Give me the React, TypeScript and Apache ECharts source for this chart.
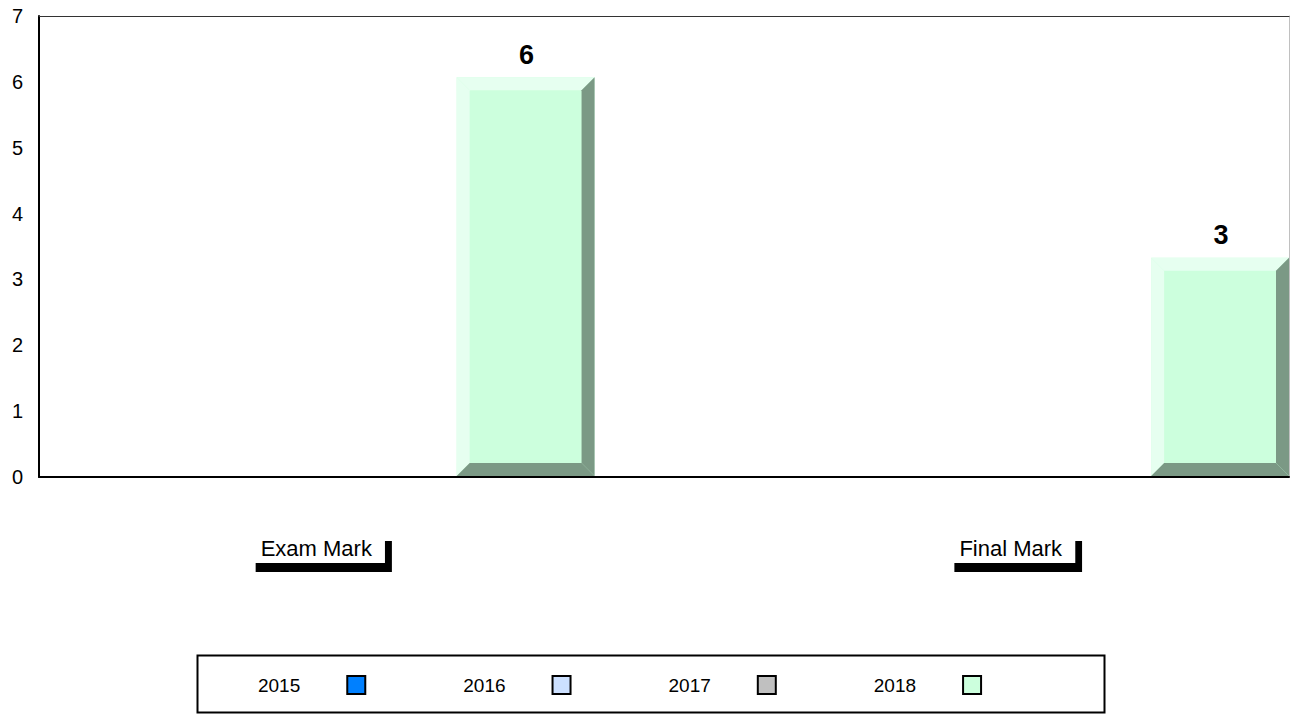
import React, { useEffect, useRef } from 'react';
import * as echarts from 'echarts';

const categories = ['Exam Mark', 'Final Mark'];
const seriesNames = ['2015', '2016', '2017', '2018'];
const values2015 = [0, 0];
const values2016 = [0, 0];
const values2017 = [0, 0];
const values2018 = [6.07, 3.33];
const seriesValues = [values2015, values2016, values2017, values2018];
const seriesColors = ['#0080ff', '#cce0ff', '#c0c0c0', '#ccffdd'];
const lightColors = ['#80c0ff', '#e6f0ff', '#e0e0e0', '#e6fff0'];
const darkColors = ['#004c99', '#7a8699', '#737373', '#7b9985'];
const yMin = 0;
const yMax = 7;
const yInterval = 1;

const FONT = '"Liberation Sans", Arial, Helvetica, sans-serif';
const SLOTS_PER_CAT = seriesNames.length + 1;
const X_MAX = categories.length * SLOTS_PER_CAT - 1;

export default function App() {
  const ref = useRef<HTMLDivElement>(null);

  useEffect(() => {
    if (!ref.current) return;
    const chart = echarts.init(ref.current, null, { renderer: 'svg' });

    const catCenter = (i: number) => i * SLOTS_PER_CAT + seriesNames.length / 2;

    const series = seriesNames.map((name, si) => ({
      name,
      type: 'custom',
      itemStyle: { color: seriesColors[si] },
      data: seriesValues[si].map((v, ci) => [ci, v]),
      renderItem: (params: any, api: any) => {
        const ci = api.value(0);
        const v = api.value(1);
        if (!(v > 0)) return null;
        const slot = ci * SLOTS_PER_CAT + params.seriesIndex;
        const a = api.coord([slot, v]);
        const b = api.coord([slot + 1, 0]);
        const x0 = a[0] + 1, y0 = a[1], x1 = b[0], y1 = b[1] - 1;
        const d = 13;
        return {
          type: 'group',
          children: [
            { type: 'rect', shape: { x: x0, y: y0, width: x1 - x0, height: y1 - y0 }, style: { fill: seriesColors[si] } },
            { type: 'polygon', shape: { points: [[x0, y0], [x1, y0], [x1 - d, y0 + d], [x0 + d, y0 + d]] }, style: { fill: lightColors[si] } },
            { type: 'polygon', shape: { points: [[x0, y0], [x0 + d, y0 + d], [x0 + d, y1 - d], [x0, y1]] }, style: { fill: lightColors[si] } },
            { type: 'polygon', shape: { points: [[x1, y0], [x1, y1], [x1 - d, y1 - d], [x1 - d, y0 + d]] }, style: { fill: darkColors[si] } },
            { type: 'polygon', shape: { points: [[x0, y1], [x1, y1], [x1 - d, y1 - d], [x0 + d, y1 - d]] }, style: { fill: darkColors[si] } },
            {
              type: 'text',
              style: {
                text: String(Math.round(v)),
                x: (x0 + x1) / 2 + 1,
                y: y0 - 9,
                align: 'center',
                verticalAlign: 'bottom',
                fill: '#000',
                font: `bold 27px ${FONT}`,
              },
            },
          ],
        };
      },
    }));

    chart.setOption({
      animation: false,
      textStyle: { fontFamily: FONT },
      grid: { left: 39, right: 2, top: 16, bottom: 247, containLabel: false },
      xAxis: [
        {
          type: 'value',
          min: 0,
          max: X_MAX,
          interval: 1,
          position: 'bottom',
          axisLine: { show: true, onZero: false, lineStyle: { color: '#000', width: 2 } },
          axisTick: { show: false },
          splitLine: { show: false },
          axisLabel: {
            margin: 55,
            formatter: (val: number) => {
              for (let i = 0; i < categories.length; i++) {
                if (Math.abs(val - catCenter(i)) < 1e-6) return `{box|${categories[i]}}`;
              }
              return '';
            },
            rich: {
              box: {
                fontSize: 22,
                fontFamily: FONT,
                color: '#000',
                backgroundColor: '#fff',
                padding: [5, 13, 4, 12],
                shadowColor: '#000',
                shadowBlur: 0,
                shadowOffsetX: 7,
                shadowOffsetY: 9,
              },
            },
          },
        },
        {
          type: 'value',
          min: 0,
          max: X_MAX,
          position: 'top',
          axisLine: { show: true, onZero: false, lineStyle: { color: '#333', width: 1 } },
          axisTick: { show: false },
          axisLabel: { show: false },
          splitLine: { show: false },
        },
      ],
      yAxis: [
        {
          type: 'value',
          min: yMin,
          max: yMax,
          interval: yInterval,
          axisLine: { show: true, onZero: false, lineStyle: { color: '#000', width: 2 } },
          axisTick: { show: false },
          splitLine: { show: false },
          axisLabel: { color: '#000', fontSize: 20, fontFamily: FONT, margin: 16 },
        },
        {
          type: 'value',
          min: yMin,
          max: yMax,
          position: 'right',
          axisLine: { show: true, onZero: false, lineStyle: { color: '#c0c0c0', width: 1 } },
          axisTick: { show: false },
          axisLabel: { show: false },
          splitLine: { show: false },
        },
      ],
      legend: {
        data: seriesNames,
        orient: 'horizontal',
        align: 'right',
        left: 253,
        top: 670,
        itemWidth: 18,
        itemHeight: 18,
        itemGap: 97,
        icon: 'rect',
        itemStyle: { borderColor: '#000', borderWidth: 2 },
        textStyle: { color: '#000', fontSize: 19, fontFamily: FONT, padding: [0, 42, 0, 0] },
        selectedMode: false,
      },
      graphic: [
        {
          type: 'rect',
          left: 195,
          top: 653,
          shape: { width: 907, height: 57 },
          style: { fill: 'none', stroke: '#000', lineWidth: 2 },
          silent: true,
        },
      ],
      series,
    });

    return () => chart.dispose();
  }, []);

  return (
    <div
      ref={ref}
      style={{ position: 'fixed', left: 0, top: 0, width: 1292, height: 724, background: '#fff' }}
    />
  );
}
